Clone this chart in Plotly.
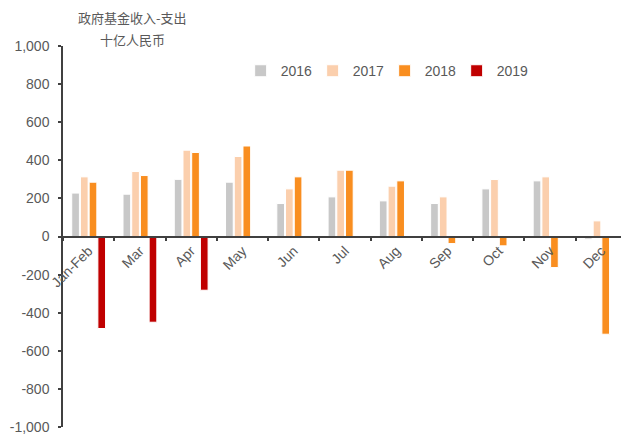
import plotly.graph_objects as go

months = ["Jan-Feb", "Mar", "Apr", "May", "Jun", "Jul", "Aug", "Sep", "Oct", "Nov", "Dec"]
v2016 = [228, 222, 300, 285, 173, 208, 187, 173, 250, 292, -14]
v2017 = [313, 341, 453, 420, 250, 348, 264, 208, 299, 313, 82]
v2018 = [285, 320, 441, 475, 313, 348, 292, -37, -49, -163, -513]
v2019 = [-483, -450, -282, None, None, None, None, None, None, None, None]

series = [("2016", v2016, "#C8C8C8"), ("2017", v2017, "#FBCFAD"),
          ("2018", v2018, "#F98E20"), ("2019", v2019, "#C00000")]

ytickvals = [1000, 800, 600, 400, 200, 0, -200, -400, -600, -800, -1000]
yticktext = ["1,000", "800", "600", "400", "200", "0", "-200", "-400", "-600", "-800", "-1,000"]

title1 = "政府基金收入-支出"
title2 = "十亿人民币"

font_main = "Arial, 'Liberation Sans', sans-serif"
grey = "#595959"

fig = go.Figure()
for name, vals, col in series:
    fig.add_trace(go.Bar(x=months, y=vals, name=name,
                         marker=dict(color=col, line=dict(color="white", width=1))))

# the page body has an 8px default margin, so the figure is sized to fit the window
fig.update_layout(
    width=621, height=429,
    margin=dict(l=52, r=2, t=38, b=10),
    paper_bgcolor="white", plot_bgcolor="white",
    barmode="group", bargap=0.32, bargroupgap=0.12,
    font=dict(family=font_main, size=14, color=grey),
    showlegend=True,
    legend=dict(orientation="h", x=0.315, y=0.934, xanchor="left", yanchor="middle",
                bgcolor="rgba(0,0,0,0)", font=dict(size=14, color=grey),
                itemwidth=30, entrywidth=27, entrywidthmode="pixels", traceorder="normal"),
    xaxis=dict(anchor="free", position=0.5, showline=True, linecolor="#404040", linewidth=1.5,
               ticks="outside", ticklen=4, tickcolor="#404040", tickwidth=1.5,
               tickson="boundaries", tickangle=-45, showgrid=False, zeroline=False,
               tickfont=dict(size=14, color=grey), range=[-0.5, 10.5]),
    yaxis=dict(range=[-1000, 1000], tickvals=ytickvals, ticktext=yticktext,
               showline=True, linecolor="#404040", linewidth=1.5,
               ticks="outside", ticklen=3, tickcolor="#404040", tickwidth=1.5,
               ticklabelstandoff=6,
               showgrid=False, zeroline=False, tickfont=dict(size=14, color=grey)),
)

fig.add_annotation(text=title1, xref="paper", yref="paper", x=0.1235, y=1.076,
                   xanchor="center", yanchor="middle", showarrow=False,
                   font=dict(family="'Noto Sans CJK SC'", size=13, color=grey))
fig.add_annotation(text=title2, xref="paper", yref="paper", x=0.1235, y=1.016,
                   xanchor="center", yanchor="middle", showarrow=False,
                   font=dict(family="'Noto Sans CJK SC'", size=13, color=grey))

fig.write_html("out.html")
